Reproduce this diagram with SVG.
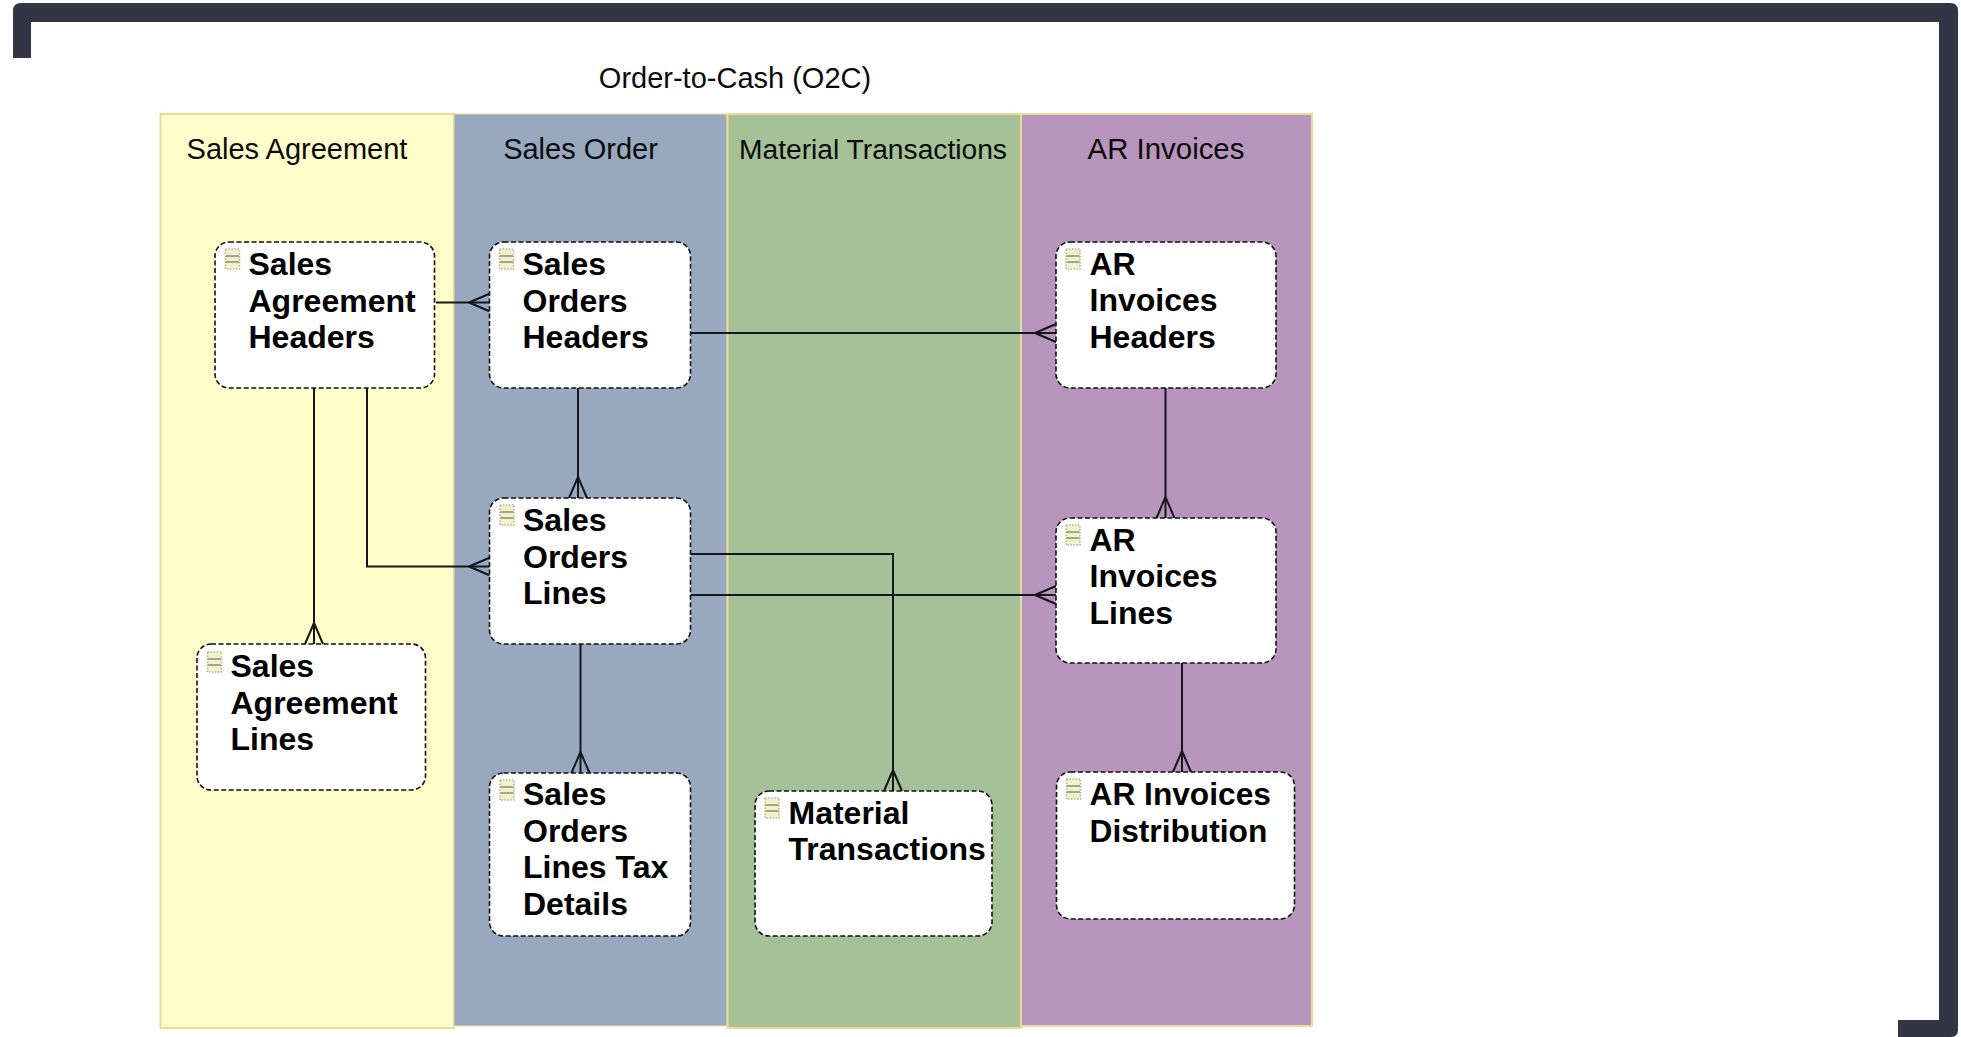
<svg xmlns="http://www.w3.org/2000/svg" width="1961" height="1037" viewBox="0 0 1961 1037">
<style>
.lane{stroke:#f0d896;stroke-width:2}
.t{font-family:"Liberation Sans",Arial,sans-serif;font-size:29px;fill:#0a0a0a}
.n{font-family:"Liberation Sans",Arial,sans-serif;font-size:32px;font-weight:bold;fill:#000}
.box{fill:#fff;stroke:#111;stroke-width:1.6;stroke-dasharray:5 2.5}
.ic{fill:#f1f1cf;stroke:#b4b58c;stroke-width:1.5;stroke-dasharray:1.5 1.5}
.il{stroke:#a3a888;stroke-width:2;fill:none}
.c{fill:none;stroke:#14161c;stroke-width:2}
.cf{marker-end:url(#crow)}
</style>
<defs>
<marker id="crow" markerUnits="userSpaceOnUse" markerWidth="22" markerHeight="20" refX="21" refY="10" orient="auto" overflow="visible">
<path d="M0,10 L21,1 M0,10 L21,19" fill="none" stroke="#14161c" stroke-width="2"/>
</marker>
<g id="icon">
<rect class="ic" x="0" y="0" width="14" height="20"/>
<path class="il" d="M0.5,7 H13.5 M0.5,13 H13.5"/>
</g>
</defs>
<rect width="1961" height="1037" fill="#fff"/>
<path id="frame" d="M13,58 V11 Q13,3 21,3 H1950 Q1958,3 1958,11 V1030 Q1958,1037 1951,1037 H1898 V1020 H1939 V22 H31 V58 Z" fill="#313545"/>
<text class="t" x="735" y="88" text-anchor="middle">Order-to-Cash (O2C)</text>
<g id="lanes">
<rect class="lane" x="160.500" y="114" width="293.500" height="914" fill="#fffdc9"/>
<rect class="lane" x="454" y="114" width="273" height="912" fill="#98a8bf" style="stroke-width:1"/>
<rect class="lane" x="727.500" y="114" width="293.500" height="914" fill="#a5c198"/>
<rect class="lane" x="1021" y="114" width="291" height="912" fill="#b895bd"/>
<text class="t" x="297" y="159" text-anchor="middle">Sales Agreement</text>
<text class="t" x="580.500" y="159" text-anchor="middle">Sales Order</text>
<text class="t" x="873" y="159" text-anchor="middle" style="font-size:28.2px">Material Transactions</text>
<text class="t" x="1166" y="159" text-anchor="middle" style="font-size:29.4px">AR Invoices</text>
</g>
<g id="connectors">
<path class="c cf" d="M436,302.500 H490"/>
<path class="c cf" d="M691,333 H1056"/>
<path class="c cf" d="M578,388 V498"/>
<path class="c cf" d="M580.500,644 V773"/>
<path class="c cf" d="M691,554 H893 V791"/>
<path class="c cf" d="M691,595 H1056"/>
<path class="c cf" d="M367,388 V566.500 H490"/>
<path class="c cf" d="M314,388 V644"/>
<path class="c cf" d="M1165.500,388 V518"/>
<path class="c cf" d="M1182,663 V772"/>
</g>
<g id="n-sah"><rect class="box" x="215" y="242" width="219.500" height="146" rx="14"/><use href="#icon" x="225.500" y="249"/><text class="n"><tspan x="248.500" y="275">Sales</tspan><tspan x="248.500" y="311.500">Agreement</tspan><tspan x="248.500" y="348">Headers</tspan></text></g>
<g id="n-sal"><rect class="box" x="197" y="644" width="228.500" height="146" rx="14"/><use href="#icon" x="207.500" y="652"/><text class="n"><tspan x="230.500" y="677">Sales</tspan><tspan x="230.500" y="713.500">Agreement</tspan><tspan x="230.500" y="750">Lines</tspan></text></g>
<g id="n-soh"><rect class="box" x="489.500" y="242" width="201" height="146" rx="14"/><use href="#icon" x="499.500" y="249"/><text class="n"><tspan x="522.500" y="275">Sales</tspan><tspan x="522.500" y="311.500">Orders</tspan><tspan x="522.500" y="348">Headers</tspan></text></g>
<g id="n-sol"><rect class="box" x="489.500" y="498" width="201" height="146" rx="14"/><use href="#icon" x="500" y="505"/><text class="n"><tspan x="523" y="531">Sales</tspan><tspan x="523" y="567.500">Orders</tspan><tspan x="523" y="604">Lines</tspan></text></g>
<g id="n-soltd"><rect class="box" x="489.500" y="773" width="201" height="163" rx="14"/><use href="#icon" x="500" y="780"/><text class="n"><tspan x="523" y="805">Sales</tspan><tspan x="523" y="841.500">Orders</tspan><tspan x="523" y="878">Lines Tax</tspan><tspan x="523" y="914.500">Details</tspan></text></g>
<g id="n-mat"><rect class="box" x="755" y="791" width="237" height="145" rx="14"/><use href="#icon" x="765" y="798"/><text class="n"><tspan x="788.500" y="823.500">Material</tspan><tspan x="788.500" y="860">Transactions</tspan></text></g>
<g id="n-arh"><rect class="box" x="1056" y="242" width="220" height="146" rx="14"/><use href="#icon" x="1066" y="249"/><text class="n"><tspan x="1089.500" y="275">AR</tspan><tspan x="1089.500" y="311">Invoices</tspan><tspan x="1089.500" y="348">Headers</tspan></text></g>
<g id="n-arl"><rect class="box" x="1056" y="518" width="220" height="145" rx="14"/><use href="#icon" x="1066" y="525"/><text class="n"><tspan x="1089.500" y="551">AR</tspan><tspan x="1089.500" y="587">Invoices</tspan><tspan x="1089.500" y="624">Lines</tspan></text></g>
<g id="n-ard"><rect class="box" x="1056.500" y="772" width="238" height="147" rx="14"/><use href="#icon" x="1066.500" y="779"/><text class="n" style="font-size:31.7px"><tspan x="1089.500" y="805">AR Invoices</tspan><tspan x="1089.500" y="841.500">Distribution</tspan></text></g>
</svg>
